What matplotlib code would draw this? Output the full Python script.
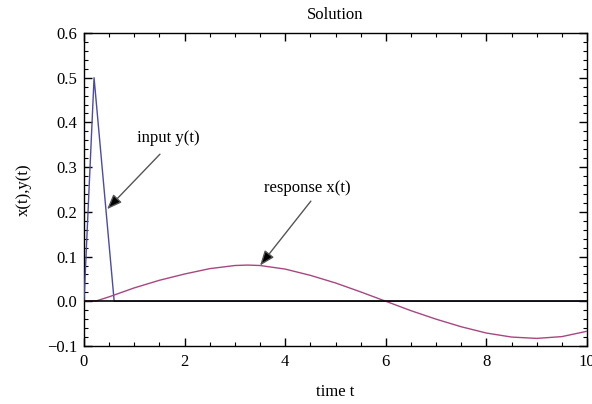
import matplotlib
matplotlib.use("Agg")
import matplotlib.pyplot as plt
from matplotlib.ticker import MultipleLocator

# Input y(t): triangular pulse then zero
input_t = [0.0, 0.2, 0.6, 10.0]
input_y = [0.0, 0.5, 0.0, 0.0]

# Response x(t), values
resp_t = [0.0, 0.25, 0.5, 0.75, 1.0, 1.5, 2.0, 2.5, 3.0, 3.25, 3.5, 4.0, 4.5,
          5.0, 5.5, 6.0, 6.5, 7.0, 7.5, 8.0, 8.5, 9.0, 9.5, 10.0]
resp_x = [0.0, 0.001, 0.010, 0.020, 0.030, 0.047, 0.061, 0.073, 0.080, 0.081,
          0.080, 0.072, 0.058, 0.041, 0.021, 0.000, -0.021, -0.040, -0.057,
          -0.071, -0.080, -0.083, -0.079, -0.067]

title = "Solution"
xlabel = "time t"
ylabel = "x(t),y(t)"
xlim = (0, 10)
ylim = (-0.1, 0.6)

plt.rcParams['font.family'] = ['Liberation Serif', 'DejaVu Serif']
fs = 12

fig = plt.figure(figsize=(5.92, 4.04), dpi=100)
ax = fig.add_axes([84/592, 1-346/404, (587-84)/592, (346-33)/404])

ax.plot(input_t, input_y, color='#4b4ba6', lw=1.0, zorder=3)
ax.plot(resp_t, resp_x, color='#a8477f', lw=1.0, zorder=3)
ax.axhline(0, color='black', lw=1.2, zorder=4)

ax.set_xlim(*xlim)
ax.set_ylim(*ylim)
ax.xaxis.set_major_locator(MultipleLocator(2))
ax.xaxis.set_minor_locator(MultipleLocator(0.5))
ax.yaxis.set_major_locator(MultipleLocator(0.1))
ax.yaxis.set_minor_locator(MultipleLocator(0.02))
ax.yaxis.set_major_formatter(matplotlib.ticker.FuncFormatter(
    lambda v, p: ("\u2212%.1f" % -v) if v < -1e-9 else "%.1f" % abs(v)))
ax.xaxis.set_major_formatter(matplotlib.ticker.FuncFormatter(lambda v, p: "%d" % round(v)))
ax.tick_params(which='both', direction='in', top=True, right=True, color='black',
               labelsize=fs)
ax.tick_params(which='major', length=6, width=1)
ax.tick_params(which='minor', length=3, width=0.8)
ax.tick_params(axis='x', pad=6)
ax.tick_params(axis='y', pad=5)
for s in ax.spines.values():
    s.set_linewidth(1.0)

ax.set_title(title, fontsize=fs, pad=10)
ax.set_xlabel(xlabel, fontsize=fs, labelpad=10)
ax.set_ylabel(ylabel, fontsize=fs, labelpad=11)

arrowprops = dict(arrowstyle='-|>,head_length=0.9,head_width=0.35',
                  facecolor='black', edgecolor='#555555', lw=1.0,
                  shrinkA=0, shrinkB=0)
ax.annotate('', xy=(0.46, 0.206), xytext=(1.51, 0.329), arrowprops=arrowprops, zorder=5)
ax.text(1.67, 0.365, 'input y(t)', ha='center', va='center', fontsize=fs)
ax.annotate('', xy=(3.5, 0.080), xytext=(4.51, 0.224), arrowprops=arrowprops, zorder=5)
ax.text(4.43, 0.253, 'response x(t)', ha='center', va='center', fontsize=fs)

fig.savefig('out.png', dpi=100)
